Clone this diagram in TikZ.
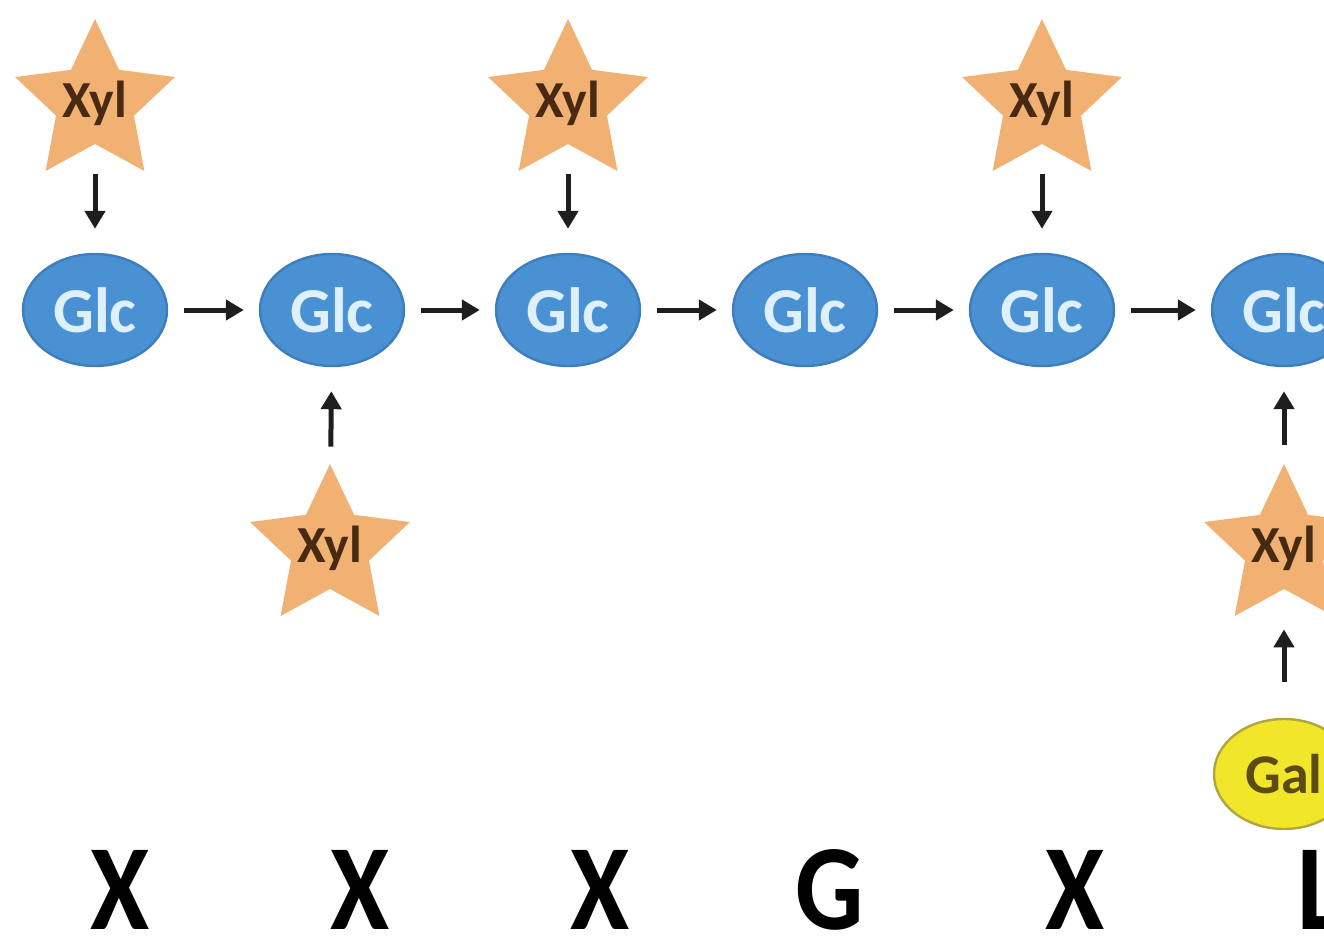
\documentclass[tikz,border=0pt]{standalone}
\usepackage{fontspec}
\setmainfont{Carlito}
\usetikzlibrary{shapes.geometric,arrows.meta}
\definecolor{glcfill}{RGB}{74,145,212}
\definecolor{glcdraw}{RGB}{62,125,190}
\definecolor{glctext}{RGB}{222,240,251}
\definecolor{starfill}{RGB}{240,177,115}
\definecolor{xyltext}{RGB}{72,42,18}
\definecolor{galfill}{RGB}{242,230,42}
\definecolor{galdraw}{RGB}{176,166,64}
\definecolor{galtext}{RGB}{90,76,20}
\definecolor{arrowcol}{RGB}{30,30,30}
\tikzset{
  glc/.style={ellipse, fill=glcfill, draw=glcdraw, line width=1.2pt,
    minimum width=72pt, minimum height=56pt, inner sep=0pt,
    text=glctext, font=\fontsize{32}{32}\selectfont\bfseries},
  xylstar/.style={star, star points=5, star point ratio=2.05,
    minimum size=84pt, inner sep=0pt, fill=starfill},
  xyllab/.style={text=xyltext, font=\fontsize{26}{26}\selectfont\bfseries, inner sep=0pt},
  gal/.style={ellipse, fill=galfill, draw=galdraw, line width=1.2pt,
    minimum width=70pt, minimum height=55pt, inner sep=0pt,
    text=galtext, font=\fontsize{28}{28}\selectfont\bfseries},
  lbl/.style={anchor=base, inner sep=0pt, font=\fontsize{61}{61}\selectfont\bfseries},
  arr/.style={line width=2.5pt, draw=arrowcol, -{Triangle[width=10pt,length=9pt]}},
  harr/.style={arr, shorten <=8pt, shorten >=7.5pt},
  downarr/.style={arr, shorten <=15pt, shorten >=12pt},
  uparr/.style={arr, shorten <=9pt, shorten >=12pt}
}
\newcommand{\narrow}[1]{\scalebox{0.88}[1]{#1}}
\begin{document}
\begin{tikzpicture}[x=0.5pt,y=-0.5pt]
\useasboundingbox (0,0) rectangle (1324,938);
\clip (0,0) rectangle (1324,938);
% Glc chain
\node[glc] (g1) at (95,310) {Glc};
\node[glc] (g2) at (332,310) {Glc};
\node[glc] (g3) at (568,310) {Glc};
\node[glc] (g4) at (805,310) {Glc};
\node[glc] (g5) at (1042,310) {Glc};
\node[glc] (g6) at (1284,310) {Glc};
% Xyl stars
\node[xylstar, label={[xyllab]center:Xyl}] (s1) at (95,103) {};
\node[xylstar, label={[xyllab]center:Xyl}] (s3) at (568,103) {};
\node[xylstar, label={[xyllab]center:Xyl}] (s5) at (1042,103) {};
\node[xylstar, label={[xyllab]center:Xyl}] (s2) at (330,548) {};
\node[xylstar, label={[xyllab]center:Xyl}] (s6) at (1284,548) {};
% Gal
\node[gal] (gal) at (1284,774) {Gal};
% arrows
\draw[harr] (g1) -- (g2);
\draw[harr] (g2) -- (g3);
\draw[harr] (g3) -- (g4);
\draw[harr] (g4) -- (g5);
\draw[harr] (g5) -- (g6);
\draw[downarr] (s1) -- (g1);
\draw[downarr] (s3) -- (g3);
\draw[downarr] (s5) -- (g5);
\draw[uparr] (s2) -- (g2);
\draw[uparr] (s6) -- (g6);
\draw[arr, shorten <=18pt, shorten >=20pt] (gal) -- (s6);
% bottom letters
\node[lbl] (l1) at (120,929) {\narrow{X}};
\node[lbl] (l2) at (360,929) {\narrow{X}};
\node[lbl] (l3) at (600,929) {\narrow{X}};
\node[lbl] (l4) at (830,929) {\narrow{G}};
\node[lbl] (l5) at (1075,929) {\narrow{X}};
\node[lbl] (l6) at (1320,929) {\narrow{L}};
\end{tikzpicture}
\end{document}
